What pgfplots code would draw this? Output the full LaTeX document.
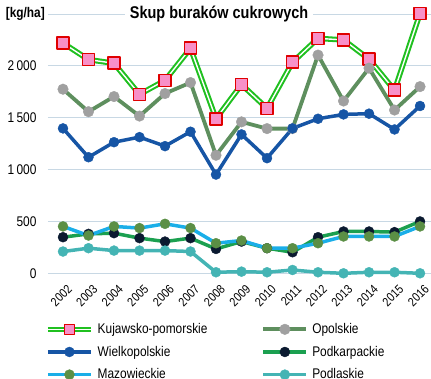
\documentclass[border=0pt]{standalone}
\usepackage{pgfplots}
\pgfplotsset{compat=1.18}
\usepackage{fontspec}
\setmainfont{Liberation Sans}[FakeStretch=0.85]
\definecolor{kgreen}{HTML}{20C020}
\definecolor{kred}{HTML}{E00000}
\definecolor{kpink}{HTML}{F890C8}
\definecolor{oline}{HTML}{5E8F5E}
\definecolor{omark}{HTML}{A0A0A0}
\definecolor{wblue}{HTML}{1655A5}
\definecolor{pkline}{HTML}{1BA050}
\definecolor{pkmark}{HTML}{0B1A30}
\definecolor{mzline}{HTML}{1AAEE8}
\definecolor{mzmark}{HTML}{5B8F45}
\definecolor{pdl}{HTML}{44B4B4}
\definecolor{gridc}{HTML}{C8D8E4}
\begin{document}
\begin{tikzpicture}
\begin{axis}[name=ax,
  scale only axis, width=383pt, height=259.3pt,
  xmin=-0.588, xmax=14.43, ymin=0, ymax=2500,
  clip=false,
  axis line style={draw=none},
  major tick length=0pt,
  ymajorgrids, major grid style={gridc, line width=0.8pt},
  ytick={0,500,1000,1500,2000,2500},
  yticklabels={0,500,1\,000,1\,500,2\,000,{}},
  xtick={0,...,14},
  xticklabels={2002,2003,2004,2005,2006,2007,2008,2009,2010,2011,2012,2013,2014,2015,2016},
  /pgf/number format/assume math mode=true,
  yticklabel style={font=\fontsize{14}{16}\selectfont, anchor=east, xshift=-8pt},
  xticklabel style={font=\fontsize{12.5}{14}\selectfont, rotate=45, anchor=north east, xshift=-4pt, yshift=-9pt, inner sep=1pt},
  legend columns=2,
  legend cell align=left,
  legend style={draw=none, fill=none, at={(rel axis cs:0,0)}, xshift=-3pt, yshift=-48pt, anchor=north west,
    font=\fontsize{14}{16}\selectfont, inner sep=0pt, row sep=7pt,
    /tikz/every odd column/.append style={column sep=2pt},
    /tikz/every even column/.append style={column sep=52pt}},
  every axis plot/.append style={line join=round},
  legend image code/.code={\draw[mark repeat=2,mark phase=2] plot coordinates {(0pt,0pt)(21.5pt,0pt)(43pt,0pt)};},
]
% Kujawsko-pomorskie: green base line
\addplot[kgreen, line width=5.5pt, forget plot] coordinates {(0,2220)(1,2060)(2,2025)(3,1725)(4,1860)(5,2170)(6,1490)(7,1820)(8,1590)(9,2035)(10,2265)(11,2250)(12,2065)(13,1765)(14,2505)};
\addplot[white, line width=1.4pt, mark=square*, mark size=6pt, mark options={draw=kred, fill=kpink, line width=1.6pt},
  legend image code/.code={\draw[kgreen,line width=5.5pt] (0pt,0pt)--(43pt,0pt); \draw[mark size=5pt,mark repeat=2,mark phase=2] plot coordinates {(0pt,0pt)(21.5pt,0pt)(43pt,0pt)};}]
 coordinates {(0,2220)(1,2060)(2,2025)(3,1725)(4,1860)(5,2170)(6,1490)(7,1820)(8,1590)(9,2035)(10,2265)(11,2250)(12,2065)(13,1765)(14,2505)};
\addlegendentry{Kujawsko-pomorskie}
\addplot[oline, line width=3.8pt, mark=*, mark size=5.3pt, mark options={draw=omark, fill=omark, line width=0.4pt}]
 coordinates {(0,1775)(1,1558)(2,1704)(3,1516)(4,1733)(5,1839)(6,1138)(7,1460)(8,1395)(9,1395)(10,2104)(11,1661)(12,1978)(13,1574)(14,1800)};
\addlegendentry{Opolskie}
\addplot[wblue, line width=3.5pt, mark=*, mark size=5pt, mark options={draw=wblue, fill=wblue, line width=0.4pt}]
 coordinates {(0,1397)(1,1119)(2,1264)(3,1313)(4,1226)(5,1365)(6,952)(7,1339)(8,1110)(9,1397)(10,1490)(11,1532)(12,1539)(13,1387)(14,1613)};
\addlegendentry{Wielkopolskie}
\addplot[pkline, line width=3.5pt, mark=*, mark size=5pt, mark options={draw=pkmark, fill=pkmark, line width=0.4pt}]
 coordinates {(0,348)(1,380)(2,387)(3,339)(4,306)(5,339)(6,235)(7,306)(8,242)(9,203)(10,348)(11,403)(12,403)(13,397)(14,500)};
\addlegendentry{Podkarpackie}
\addplot[mzline, line width=3.5pt, mark=*, mark size=5pt, mark options={draw=mzmark, fill=mzmark, line width=0.4pt}]
 coordinates {(0,452)(1,364)(2,452)(3,436)(4,477)(5,436)(6,290)(7,316)(8,242)(9,242)(10,290)(11,355)(12,355)(13,355)(14,452)};
\addlegendentry{Mazowieckie}
\addplot[pdl, line width=3.5pt, mark=*, mark size=5pt, mark options={draw=pdl, fill=pdl, line width=0.4pt}]
 coordinates {(0,210)(1,242)(2,219)(3,219)(4,219)(5,210)(6,10)(7,16)(8,10)(9,32)(10,10)(11,0)(12,10)(13,10)(14,0)};
\addlegendentry{Podlaskie}
\node[fill=white, inner xsep=5pt, inner ysep=2pt, font=\bfseries\fontsize{17}{19}\selectfont] at (axis cs:6.12,2500) {Skup buraków cukrowych};
\node[fill=white, anchor=east, inner sep=1pt, font=\bfseries\fontsize{14}{16}\selectfont] at ([xshift=-2pt]rel axis cs:0,1) {[kg/ha]};
\end{axis}
\pgfresetboundingbox
\useasboundingbox ([xshift=-48pt,yshift=-105.7pt]ax.south west) rectangle ([yshift=14pt]ax.north east);
\end{tikzpicture}
\end{document}
